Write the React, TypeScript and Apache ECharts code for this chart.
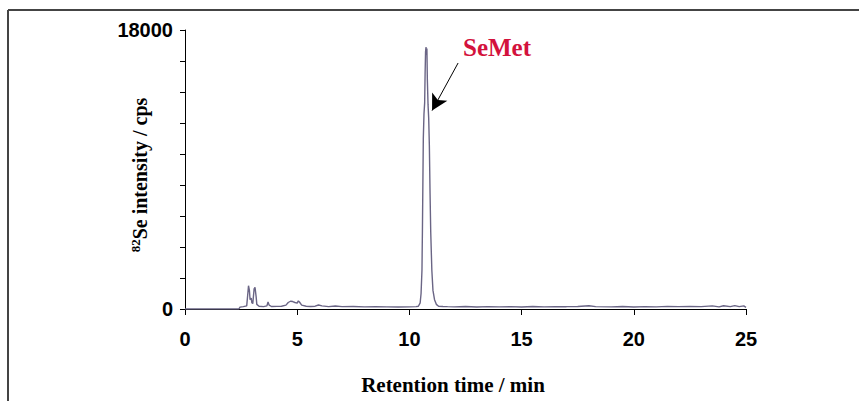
import React, { useEffect, useRef } from "react";
import * as echarts from "echarts";

const times: number[] = [
  0, 2.4, 2.45, 2.6, 2.75, 2.8, 2.83, 2.87, 2.9, 2.95, 2.98, 3.02, 3.08, 3.12, 3.17, 3.2, 3.3, 3.5, 3.65, 3.7,
  3.75, 3.85, 4.1, 4.3, 4.5, 4.6, 4.7, 4.8, 4.9, 5.0, 5.05, 5.1, 5.2, 5.4, 5.6, 5.8, 5.95, 6.1, 6.4, 6.7,
  7.0, 7.5, 8.0, 8.5, 9.0, 9.5, 10.0, 10.3, 10.4, 10.48, 10.52, 10.56, 10.58, 10.6, 10.62, 10.65, 10.68, 10.7,
  10.72, 10.74, 10.76, 10.78, 10.8, 10.83, 10.86, 10.89, 10.92, 10.95, 11.0, 11.05, 11.12, 11.2, 11.3, 11.5,
  11.7, 12, 12.5, 13, 13.5, 14, 14.5, 15, 15.5, 16, 16.5, 17, 17.5, 18, 18.3, 19, 19.5, 20, 20.5, 21, 21.5,
  22, 22.5, 23, 23.5, 23.8, 24, 24.3, 24.5, 24.7, 24.9, 25,
];
const intensities: number[] = [
  0, 0, 120, 150, 200, 1000, 1500, 1200, 600, 700, 400, 350, 1300, 1400, 800, 300, 180, 150, 200, 450,
  250, 160, 170, 180, 250, 420, 500, 480, 420, 380, 520, 450, 250, 180, 160, 180, 260, 200, 150, 190,
  150, 160, 140, 150, 140, 130, 140, 150, 180, 400, 1000, 2500, 5000, 8000, 11000, 12600, 13300, 15200,
  16600, 16900, 16400, 16800, 14800, 13200, 12300, 10500, 7500, 5000, 2500, 1200, 600, 300, 180, 160,
  150, 140, 160, 130, 150, 140, 150, 130, 160, 140, 150, 150, 160, 210, 150, 140, 160, 130, 150, 140, 170,
  150, 160, 150, 200, 140, 210, 150, 220, 150, 200, 100,
];

const yLabelsShown: number[] = [0, 18000];
const peakName = "SeMet";
const xTitle = "Retention time / min";
const arrowFrom: [number, number] = [12.17, 15870];
const arrowTo: [number, number] = [11.01, 12800];

export default function App() {
  const ref = useRef<HTMLDivElement>(null);
  useEffect(() => {
    if (!ref.current) return;
    const chart = echarts.init(ref.current, undefined, { renderer: "svg" });
    const data = times.map((t, i) => [t, intensities[i]]);
    chart.setOption({
      animation: false,
      backgroundColor: "#ffffff",
      grid: { left: 185, right: 113, top: 30, bottom: 92, containLabel: false },
      xAxis: {
        type: "value",
        min: 0,
        max: 25,
        interval: 5,
        axisLine: { lineStyle: { color: "#000", width: 1 } },
        axisTick: { inside: false, length: 6, lineStyle: { color: "#000" } },
        axisLabel: { margin: 20, fontFamily: "Liberation Sans", fontWeight: "bold", fontSize: 20, color: "#000" },
        splitLine: { show: false },
      },
      yAxis: {
        type: "value",
        min: 0,
        max: 18000,
        interval: 2000,
        axisLine: { show: true, lineStyle: { color: "#000", width: 1 } },
        axisTick: { show: true, inside: false, length: 5, lineStyle: { color: "#000" } },
        axisLabel: {
          margin: 12,
          fontFamily: "Liberation Sans",
          fontWeight: "bold",
          fontSize: 20,
          color: "#000",
          formatter: (v: number) => (yLabelsShown.includes(v) ? String(v) : ""),
        },
        splitLine: { show: false },
      },
      series: [
        {
          type: "line",
          data,
          showSymbol: false,
          symbol: "none",
          lineStyle: { color: "#6a6585", width: 1.4 },
          markLine: {
            silent: true,
            symbol: ["none", "arrow"],
            symbolSize: [13, 16],
            label: { show: false },
            lineStyle: { color: "#000", width: 1, type: "solid" },
            data: [[{ coord: arrowFrom }, { coord: arrowTo }]],
          },
        },
      ],
      graphic: [
        {
          type: "text",
          left: 463,
          top: 35,
          style: { text: peakName, fontFamily: "Liberation Serif", fontWeight: "bold", fontSize: 25, fill: "#d3123c" },
        },
        {
          type: "text",
          x: 453,
          y: 385,
          style: {
            text: xTitle,
            fontFamily: "Liberation Serif",
            fontWeight: "bold",
            fontSize: 21,
            fill: "#000",
            align: "center",
            verticalAlign: "middle",
          },
        },
        {
          type: "text",
          x: 140,
          y: 175,
          rotation: Math.PI / 2,
          style: {
            text: "{sup|82}{b|Se intensity / cps}",
            align: "center",
            verticalAlign: "middle",
            rich: {
              sup: { fontFamily: "Liberation Serif", fontWeight: "bold", fontSize: 13, padding: [0, 0, 9, 0], fill: "#000" },
              b: { fontFamily: "Liberation Serif", fontWeight: "bold", fontSize: 20, fill: "#000" },
            },
          },
        },
        { type: "line", shape: { x1: 8, y1: 10, x2: 859, y2: 10 }, style: { stroke: "#444", lineWidth: 2 } },
        { type: "line", shape: { x1: 8, y1: 10, x2: 8, y2: 401 }, style: { stroke: "#444", lineWidth: 2 } },
      ],
    });
    return () => chart.dispose();
  }, []);
  return <div ref={ref} style={{ position: "fixed", left: 0, top: 0, width: 859, height: 401 }} />;
}
